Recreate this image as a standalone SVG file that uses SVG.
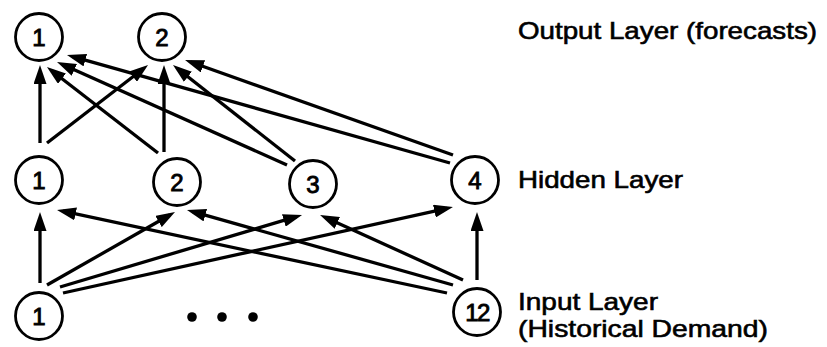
<svg xmlns="http://www.w3.org/2000/svg" width="827" height="347" viewBox="0 0 827 347">
  <style>
    .node circle { fill: #fff; stroke: #000; stroke-width: 2.8; }
    .node text { font-family: "Liberation Sans", Arial, sans-serif; font-size: 24px; text-anchor: middle; fill: #000; stroke: #000; stroke-width: 0.9; }
    .edges line { stroke: #000; stroke-width: 3.3; stroke-linecap: butt; }
    .label { font-family: "Liberation Sans", Arial, sans-serif; font-size: 24px; fill: #000; stroke: #000; stroke-width: 0.6; }
  </style>
  <defs>
    <marker id="arrow" markerUnits="userSpaceOnUse" markerWidth="19" markerHeight="13" refX="13" refY="6.5" orient="auto">
      <path d="M0,0 L19,6.5 L0,13 z" fill="#000"/>
    </marker>
  </defs>
  <rect width="827" height="347" fill="#fff"/>

  <!-- connectors: hidden -> output, input -> hidden -->
  <g id="connectors" class="edges">
    <line x1="40" y1="143" x2="40" y2="71" marker-end="url(#arrow)"/>
    <line x1="47" y1="143" x2="143.3" y2="68.7" marker-end="url(#arrow)"/>
    <line x1="158" y1="153" x2="51.7" y2="70.7" marker-end="url(#arrow)"/>
    <line x1="164" y1="152" x2="164" y2="71" marker-end="url(#arrow)"/>
    <line x1="287" y1="165" x2="62.5" y2="64.5" marker-end="url(#arrow)"/>
    <line x1="295" y1="161" x2="177.7" y2="68.7" marker-end="url(#arrow)"/>
    <line x1="450" y1="163" x2="72.8" y2="56.6" marker-end="url(#arrow)"/>
    <line x1="453" y1="155" x2="190.7" y2="62" marker-end="url(#arrow)"/>

    <line x1="40" y1="283" x2="40" y2="218" marker-end="url(#arrow)"/>
    <line x1="47" y1="285" x2="169.8" y2="215" marker-end="url(#arrow)"/>
    <line x1="60" y1="287" x2="296.3" y2="216.7" marker-end="url(#arrow)"/>
    <line x1="63" y1="293" x2="447.1" y2="208.3" marker-end="url(#arrow)"/>
    <line x1="447" y1="293" x2="62.9" y2="211.2" marker-end="url(#arrow)"/>
    <line x1="453" y1="285" x2="192.8" y2="211.6" marker-end="url(#arrow)"/>
    <line x1="463" y1="280" x2="325.5" y2="217.5" marker-end="url(#arrow)"/>
    <line x1="477" y1="280" x2="477" y2="218" marker-end="url(#arrow)"/>
  </g>

  <!-- output layer -->
  <g id="out1" class="node"><circle cx="39" cy="37" r="23.5"/><text x="39" y="45.5">1</text></g>
  <g id="out2" class="node"><circle cx="162" cy="37" r="23.5"/><text x="162" y="45.5">2</text></g>

  <!-- hidden layer -->
  <g id="hid1" class="node"><circle cx="39" cy="180" r="23.5"/><text x="39" y="188.5">1</text></g>
  <g id="hid2" class="node"><circle cx="177" cy="182" r="23.5"/><text x="177" y="190.5">2</text></g>
  <g id="hid3" class="node"><circle cx="313" cy="184" r="23.5"/><text x="313" y="192.5">3</text></g>
  <g id="hid4" class="node"><circle cx="475" cy="180" r="23.5"/><text x="475" y="188.5">4</text></g>

  <!-- input layer -->
  <g id="in1" class="node"><circle cx="39" cy="316" r="23.5"/><text x="39" y="324.5">1</text></g>
  <g id="in12" class="node"><circle cx="477" cy="312" r="23.5"/><text x="477" y="320.5" letter-spacing="-1.5">12</text></g>

  <!-- ellipsis between input nodes -->
  <g id="ellipsis" fill="#000">
    <circle cx="192" cy="317" r="4.8"/>
    <circle cx="222" cy="317" r="4.8"/>
    <circle cx="253" cy="317" r="4.8"/>
  </g>

  <!-- layer captions -->
  <g id="captions">
    <text class="label" x="518" y="39" textLength="299" lengthAdjust="spacingAndGlyphs">Output Layer (forecasts)</text>
    <text class="label" x="518" y="188" textLength="165" lengthAdjust="spacingAndGlyphs">Hidden Layer</text>
    <text class="label" x="518" y="310" textLength="140" lengthAdjust="spacingAndGlyphs">Input Layer</text>
    <text class="label" x="518" y="337" textLength="250" lengthAdjust="spacingAndGlyphs">(Historical Demand)</text>
  </g>
</svg>
